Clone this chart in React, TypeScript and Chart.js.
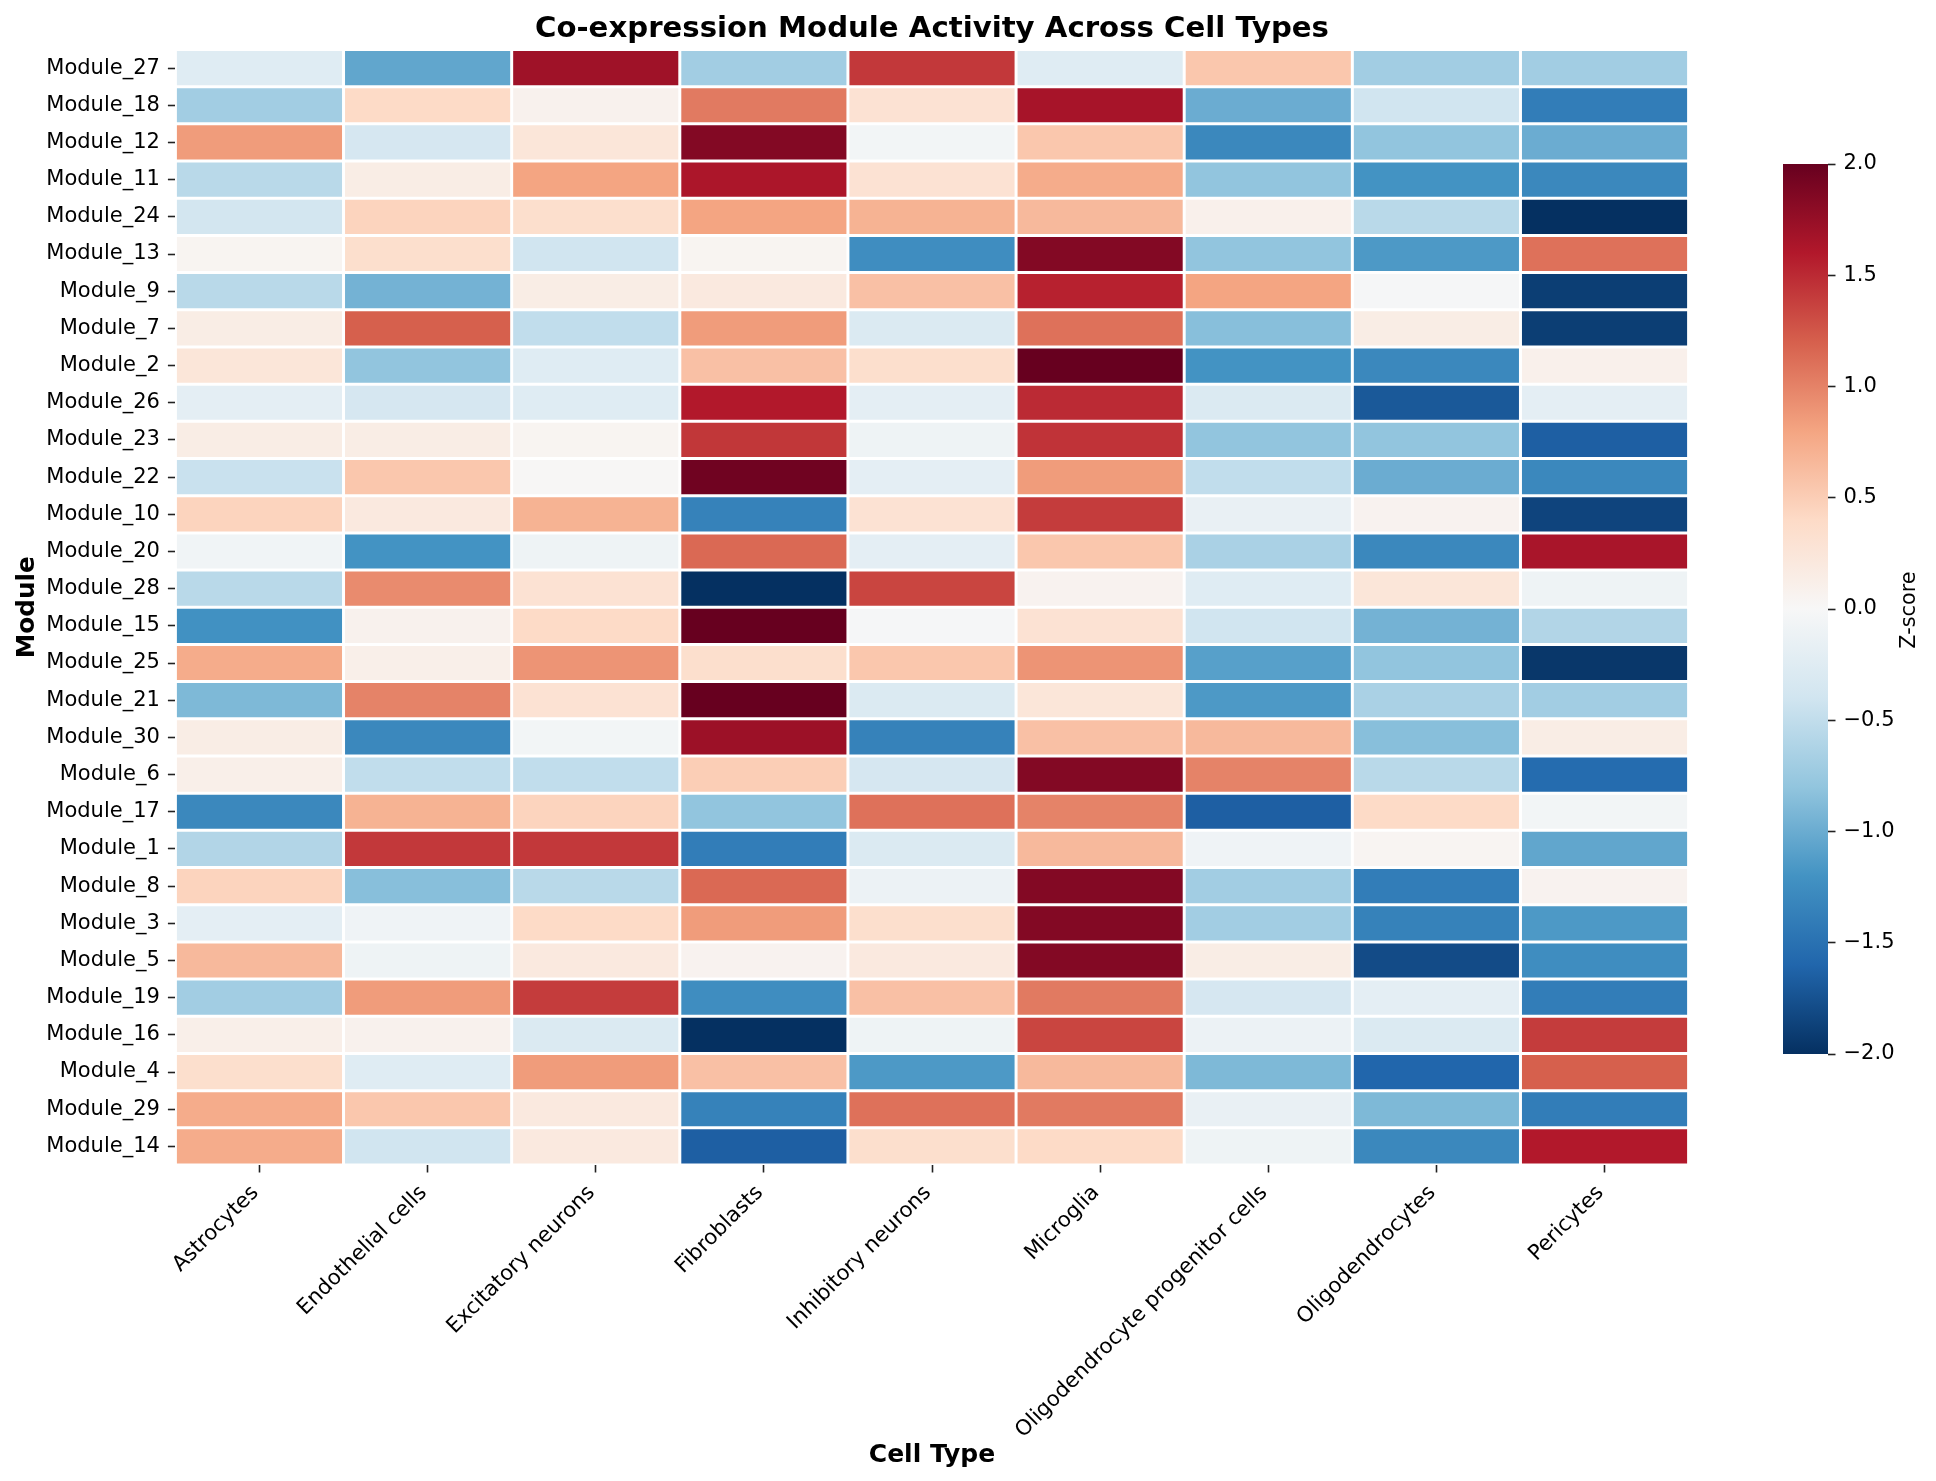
import Chart from "chart.js/auto";
import { useEffect, useRef } from "react";

const cellTypes = [
  "Astrocytes",
  "Endothelial cells",
  "Excitatory neurons",
  "Fibroblasts",
  "Inhibitory neurons",
  "Microglia",
  "Oligodendrocyte progenitor cells",
  "Oligodendrocytes",
  "Pericytes",
];

const modules = [
  "Module_27", "Module_18", "Module_12", "Module_11", "Module_24", "Module_13",
  "Module_9", "Module_7", "Module_2", "Module_26", "Module_23", "Module_22",
  "Module_10", "Module_20", "Module_28", "Module_15", "Module_25", "Module_21",
  "Module_30", "Module_6", "Module_17", "Module_1", "Module_8", "Module_3",
  "Module_5", "Module_19", "Module_16", "Module_4", "Module_29", "Module_14",
];

// z-scores, one array per cell type, same order as modules
const astrocytes = [-0.25, -0.7, 0.85, -0.55, -0.38, 0.05, -0.55, 0.15, 0.25, -0.2, 0.15, -0.45, 0.45, -0.07, -0.55, -1.22, 0.75, -0.9, 0.15, 0.12, -1.3, -0.6, 0.45, -0.2, 0.65, -0.7, 0.12, 0.35, 0.75, 0.75];
const endothelial = [-1.05, 0.4, -0.35, 0.15, 0.45, 0.35, -0.95, 1.2, -0.8, -0.35, 0.15, 0.55, 0.2, -1.2, 0.95, 0.08, 0.12, 1.0, -1.3, -0.5, 0.7, 1.42, -0.85, -0.08, -0.1, 0.85, 0.08, -0.25, 0.55, -0.4];
const excitatory = [1.7, 0.08, 0.25, 0.8, 0.35, -0.4, 0.15, -0.5, -0.25, -0.25, 0.05, 0.02, 0.7, -0.1, 0.3, 0.4, 0.9, 0.3, -0.05, -0.5, 0.45, 1.42, -0.55, 0.4, 0.2, 1.4, -0.3, 0.85, 0.2, 0.2];
const fibroblasts = [-0.7, 1.05, 1.85, 1.63, 0.8, 0.05, 0.2, 0.85, 0.6, 1.6, 1.43, 1.95, -1.35, 1.15, -2, 2, 0.35, 2, 1.72, 0.5, -0.8, -1.4, 1.15, 0.85, 0.07, -1.25, -2, 0.6, -1.35, -1.65];
const inhibitory = [1.42, 0.3, -0.05, 0.3, 0.7, -1.25, 0.6, -0.3, 0.35, -0.2, -0.1, -0.2, 0.3, -0.2, 1.35, -0.02, 0.55, -0.3, -1.35, -0.35, 1.1, -0.3, -0.12, 0.35, 0.2, 0.6, -0.1, -1.15, 1.1, 0.35];
const microglia = [-0.25, 1.66, 0.55, 0.75, 0.65, 1.85, 1.55, 1.1, 2, 1.5, 1.45, 0.85, 1.4, 0.55, 0.07, 0.3, 0.9, 0.25, 0.6, 1.85, 1.0, 0.65, 1.85, 1.85, 1.85, 1.05, 1.35, 0.65, 1.05, 0.4];
const opc = [0.55, -1, -1.3, -0.8, 0.1, -0.8, 0.8, -0.85, -1.2, -0.3, -0.8, -0.5, -0.15, -0.65, -0.25, -0.4, -1.1, -1.15, 0.65, 1, -1.65, -0.08, -0.7, -0.7, 0.15, -0.35, -0.12, -0.9, -0.15, -0.1];
const oligodendrocytes = [-0.7, -0.4, -0.8, -1.2, -0.55, -1.15, -0.02, 0.15, -1.3, -1.7, -0.8, -1, 0.07, -1.3, 0.25, -0.95, -0.8, -0.65, -0.85, -0.55, 0.4, 0.04, -1.4, -1.35, -1.8, -0.2, -0.3, -1.6, -0.9, -1.3];
const pericytes = [-0.7, -1.4, -1, -1.3, -2, 1.1, -1.9, -1.9, 0.1, -0.2, -1.65, -1.3, -1.85, 1.65, -0.1, -0.6, -1.95, -0.7, 0.15, -1.55, -0.05, -1.05, 0.07, -1.15, -1.25, -1.4, 1.4, 1.2, -1.4, 1.6];

const columns = [astrocytes, endothelial, excitatory, fibroblasts, inhibitory, microglia, opc, oligodendrocytes, pericytes];

// RdBu_r, low to high
const rdbu = [
  [5, 48, 97], [33, 102, 172], [67, 147, 195], [146, 197, 222], [209, 229, 240],
  [247, 247, 247], [253, 219, 199], [244, 165, 130], [214, 96, 77], [178, 24, 43], [103, 0, 31],
];

const zMin = -2;
const zMax = 2;
const font = "'DejaVu Sans'";

function zColor(z: number) {
  const t = (Math.min(zMax, Math.max(zMin, z)) - zMin) / (zMax - zMin);
  const pos = t * (rdbu.length - 1);
  const i = Math.min(rdbu.length - 2, Math.floor(pos));
  const f = pos - i;
  const c = rdbu[i].map((v, k) => Math.round(v + (rdbu[i + 1][k] - v) * f));
  return `rgb(${c[0]}, ${c[1]}, ${c[2]})`;
}

// seaborn puts the colorbar label on the right, reading bottom to top
const zLabel = {
  id: "zLabel",
  afterDraw(chart: Chart) {
    const { ctx, chartArea } = chart;
    ctx.save();
    ctx.translate(1910, (chartArea.top + chartArea.bottom) / 2 + 1);
    ctx.rotate(-Math.PI / 2);
    ctx.font = `20.8px ${font}`;
    ctx.fillStyle = "#000";
    ctx.textAlign = "center";
    ctx.textBaseline = "middle";
    ctx.fillText("Z-score", 0, 0);
    ctx.restore();
  },
};

export default function App() {
  const heatRef = useRef<HTMLCanvasElement | null>(null);
  const barRef = useRef<HTMLCanvasElement | null>(null);

  useEffect(() => {
    if (!heatRef.current || !barRef.current) return;

    const heat = new Chart(heatRef.current, {
      type: "bar",
      data: {
        labels: modules,
        datasets: columns.map((values, c) => ({
          label: cellTypes[c],
          data: values.map(() => [c - 0.5, c + 0.5]),
          backgroundColor: values.map(zColor),
          borderColor: "#ffffff",
          borderWidth: 1.5,
          borderSkipped: false,
          inflateAmount: 0,
          barPercentage: 1,
          categoryPercentage: 1,
          grouped: false,
        })) as any,
      },
      options: {
        indexAxis: "y",
        animation: false,
        responsive: false,
        devicePixelRatio: 1,
        layout: { padding: { right: 247.4 } },
        plugins: {
          legend: { display: false },
          tooltip: { enabled: false },
          title: {
            display: true,
            text: "Co-expression Module Activity Across Cell Types",
            fullSize: false,
            color: "#000",
            font: { family: font, size: 29.2, weight: "bold", lineHeight: 1 },
            padding: { top: 15, bottom: 5.3 },
          },
        },
        scales: {
          x: {
            type: "linear",
            min: -0.5,
            max: cellTypes.length - 0.5,
            afterBuildTicks: (scale: any) => {
              scale.ticks = cellTypes.map((_, i) => ({ value: i }));
            },
            afterFit: (scale: any) => {
              scale.height = 316;
            },
            border: { display: false },
            grid: {
              drawOnChartArea: false,
              tickLength: 7.5,
              tickWidth: 1.6,
              tickColor: "#222",
            },
            ticks: {
              autoSkip: false,
              minRotation: 45,
              maxRotation: 45,
              padding: 8,
              labelOffset: -4,
              color: "#000",
              font: { family: font, size: 21.2 },
              callback: (v: any) => cellTypes[v],
            },
            title: {
              display: true,
              text: "Cell Type",
              color: "#000",
              font: { family: font, size: 25, weight: "bold" },
              padding: { top: 0, bottom: 11 },
            },
          },
          y: {
            afterFit: (scale: any) => {
              scale.width = 175.4;
            },
            border: { display: false },
            grid: {
              offset: false,
              drawOnChartArea: false,
              tickLength: 7.5,
              tickWidth: 1.6,
              tickColor: "#222",
            },
            ticks: {
              autoSkip: false,
              padding: 8,
              color: "#000",
              font: { family: font, size: 21 },
            },
            title: {
              display: true,
              text: "Module",
              color: "#000",
              font: { family: font, size: 24.7, weight: "bold" },
              padding: { top: 13, bottom: 0 },
            },
          },
        },
      },
    });

    const bar = new Chart(barRef.current, {
      type: "bar",
      data: {
        labels: ["Z-score"],
        datasets: [
          {
            data: [[zMin, zMax]],
            barPercentage: 1,
            categoryPercentage: 1,
            inflateAmount: 0,
            backgroundColor: (context: any) => {
              const { ctx, chartArea } = context.chart;
              if (!chartArea) return "#fff";
              const g = ctx.createLinearGradient(0, chartArea.bottom, 0, chartArea.top);
              rdbu.forEach((_, i) => {
                g.addColorStop(i / (rdbu.length - 1), zColor(zMin + (i / (rdbu.length - 1)) * (zMax - zMin)));
              });
              return g;
            },
          },
        ] as any,
      },
      options: {
        animation: false,
        responsive: false,
        devicePixelRatio: 1,
        layout: { padding: { left: 1783, top: 164, bottom: 427 } },
        plugins: { legend: { display: false }, tooltip: { enabled: false } },
        scales: {
          x: { display: false },
          y: {
            position: "right",
            min: zMin,
            max: zMax,
            afterFit: (scale: any) => {
              scale.width = 108;
            },
            border: { display: false },
            grid: {
              drawOnChartArea: false,
              tickLength: 7.5,
              tickWidth: 1.6,
              tickColor: "#222",
            },
            ticks: {
              stepSize: 0.5,
              padding: 8,
              color: "#000",
              font: { family: font, size: 21 },
              callback: (v: any) => Number(v).toFixed(1).replace("-", "\u2212"),
            },
          },
        },
      },
      plugins: [zLabel],
    });

    return () => {
      heat.destroy();
      bar.destroy();
    };
  }, []);

  return (
    <div style={{ position: "fixed", left: 0, top: 0, width: 1936, height: 1481, background: "#fff" }}>
      <canvas ref={heatRef} width={1936} height={1481} style={{ position: "absolute", left: 0, top: 0 }} />
      <canvas ref={barRef} width={1936} height={1481} style={{ position: "absolute", left: 0, top: 0 }} />
    </div>
  );
}
